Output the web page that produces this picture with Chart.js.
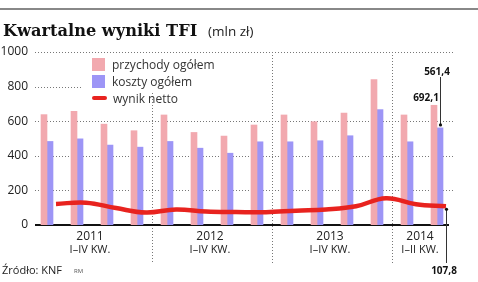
<!DOCTYPE html>
<html>
<head>
<meta charset="utf-8">
<script src="https://cdn.jsdelivr.net/npm/chart.js@4.4.1/dist/chart.umd.min.js"></script>
<style>
  body { margin: 0; background: #fff; }
  #wrap { position: relative; width: 478px; height: 282px; overflow: hidden; font-family: "Open Sans", sans-serif; color: #222; }
  #wrap canvas { position: absolute; left: 0; top: 0; }
  .rule { position: absolute; left: 0; top: 8px; width: 478px; height: 2px; background: #888; }
  .title { position: absolute; left: 3px; top: 22px; font: bold 16.2px/17px "DejaVu Serif", serif; white-space: nowrap; color: #111; }
  .unit { position: absolute; left: 208px; top: 22px; font-size: 13.5px; color: #222; }
  .legend { position: absolute; left: 92px; top: 56px; font-size: 12px; color: #333; }
  .legend div { height: 17px; line-height: 17px; white-space: nowrap; }
  .sw { display: inline-block; width: 13px; height: 13px; vertical-align: -2px; margin-right: 7px; }
  .ln { display: inline-block; width: 15px; height: 4px; border-radius: 2px; vertical-align: 3px; margin-right: 6px; background: #e8231f; }
  .src { position: absolute; left: 2px; top: 262px; font-size: 11px; color: #222; }
  .rm { position: absolute; left: 74px; top: 267px; font-size: 6px; color: #555; }
</style>
</head>
<body>
<div id="wrap">
  <canvas id="wyniki" width="478" height="282"></canvas>
  <div class="rule"></div>
  <div class="title">Kwartalne wyniki TFI</div>
  <div class="unit">(mln zł)</div>
  <div class="legend">
    <div><span class="sw" style="background:#f2a9af"></span>przychody ogółem</div>
    <div><span class="sw" style="background:#9d95f6"></span>koszty ogółem</div>
    <div><span class="ln"></span>wynik netto</div>
  </div>
  <div class="src">Źródło: KNF</div>
  <div class="rm">RM</div>
</div>
<script>
// dane kwartalne (mln zł)
const kwartaly = ['I 2011', 'II 2011', 'III 2011', 'IV 2011', 'I 2012', 'II 2012', 'III 2012', 'IV 2012',
  'I 2013', 'II 2013', 'III 2013', 'IV 2013', 'I 2014', 'II 2014'];
const przychody = [638, 657, 583, 545, 636, 535, 514, 578, 636, 597, 647, 840, 636, 692.1];
const koszty = [483, 498, 462, 450, 483, 444, 415, 481, 481, 487, 516, 667, 481, 561.4];
const wynik = [122, 129, 98, 72, 90, 78, 75, 74, 83, 90, 108, 155, 120, 107.8];

// opisy osi
const lata = ['2011', '2012', '2013', '2014'];
const okresy = ['I–IV KW.', 'I–IV KW.', 'I–IV KW.', 'I–II KW.'];
const kwNaRok = [4, 4, 4, 2];
const yTicks = [0, 200, 400, 600, 800, 1000];

// indeks kwartalu, przy ktorym stoi opis roku, i ostatni kwartal kazdego roku
const opisRoku = {};
const ostatniKw = [];
let start = 0;
kwNaRok.forEach((n, i) => {
  opisRoku[start + n / 2 - 1] = i;
  start += n;
  if (i < kwNaRok.length - 1) ostatniKw.push(start - 1);
});

const fmt = v => v.toFixed(1).replace('.', ',');
const PRZESUNIECIE = 9; // linia wyniku lekko w prawo od srodka kwartalu

const dekoracje = {
  id: 'dekoracje',
  beforeDatasetsDraw(chart) {
    const { ctx, chartArea: a, scales: { x, y } } = chart;
    const line = (x1, y1, x2, y2) => { ctx.beginPath(); ctx.moveTo(x1, y1); ctx.lineTo(x2, y2); ctx.stroke(); };
    ctx.save();
    ctx.strokeStyle = '#777';
    ctx.lineWidth = 1;
    ctx.setLineDash([1, 2]);
    yTicks.forEach(v => {
      if (v === 0) return;
      const py = Math.round(y.getPixelForValue(v)) + 0.5;
      line(35, py, v === 800 ? 83 : a.right + 2, py);
    });
    ostatniKw.forEach((k, i) => {
      const px = Math.round((x.getPixelForValue(k) + x.getPixelForValue(k + 1)) / 2) + 0.5;
      line(px, i === 0 ? 93 : a.top, px, 263);
    });
    ctx.setLineDash([]);
    ctx.strokeStyle = '#111';
    ctx.lineWidth = 2;
    const p0 = Math.round(y.getPixelForValue(0));
    line(35, p0, 449, p0);
    ctx.restore();
  },
  beforeDatasetDraw(chart, args) {
    if (args.index === 2) { chart.ctx.save(); chart.ctx.translate(PRZESUNIECIE, 0); }
  },
  afterDatasetDraw(chart, args) {
    if (args.index === 2) chart.ctx.restore();
  },
  afterDatasetsDraw(chart) {
    const { ctx } = chart;
    const last = kwartaly.length - 1;
    const mp = chart.getDatasetMeta(0).data[last];
    const mk = chart.getDatasetMeta(1).data[last];
    const ml = chart.getDatasetMeta(2).data[last];
    ctx.save();
    ctx.fillStyle = '#111';
    ctx.strokeStyle = '#333';
    ctx.lineWidth = 1;
    ctx.font = 'bold 10px "Open Sans"';
    ctx.textAlign = 'center';
    ctx.textBaseline = 'middle';
    // koszty
    ctx.fillText(fmt(koszty[last]), mk.x - 3, 72);
    const kx = Math.round(mk.x) + 0.5;
    ctx.beginPath(); ctx.moveTo(kx, 77); ctx.lineTo(kx, mk.y - 3); ctx.stroke();
    ctx.beginPath(); ctx.arc(kx, mk.y - 3, 1.6, 0, Math.PI * 2); ctx.fill();
    // przychody
    ctx.fillText(fmt(przychody[last]), mp.x - 8, mp.y - 7);
    // wynik netto
    const lx = Math.round(ml.x + PRZESUNIECIE) + 0.5;
    ctx.beginPath(); ctx.moveTo(lx, ml.y + 3); ctx.lineTo(lx, 263); ctx.stroke();
    ctx.beginPath(); ctx.arc(lx, ml.y + 3, 1.6, 0, Math.PI * 2); ctx.fill();
    ctx.fillText(fmt(wynik[last]), 444, 271);
    ctx.restore();
  }
};

const osRoku = (teksty, rozmiar, wys, pad) => ({
  type: 'category', position: 'bottom', offset: true,
  afterFit: s => { s.height = wys; },
  grid: { display: false, drawTicks: false }, border: { display: false },
  ticks: {
    autoSkip: false, maxRotation: 0, padding: pad, labelOffset: 13, color: '#222',
    font: { family: 'Open Sans', size: rozmiar },
    callback: (v, i) => (i in opisRoku ? teksty[opisRoku[i]] : '')
  }
});

const config = {
  type: 'bar',
  data: {
    labels: kwartaly,
    datasets: [{
      label: 'przychody ogółem',
      data: przychody,
      backgroundColor: '#f2a9af',
      barThickness: 6,
      xAxisID: 'x',
      order: 1
    }, {
      label: 'koszty ogółem',
      data: koszty,
      backgroundColor: '#9d95f6',
      barThickness: 6,
      xAxisID: 'x',
      order: 1
    }, {
      type: 'line',
      label: 'wynik netto',
      data: wynik,
      xAxisID: 'x',
      borderColor: '#e8231f',
      borderWidth: 4.5,
      pointRadius: 0,
      tension: 0.4,
      order: 0
    }]
  },
  options: {
    responsive: false,
    animation: false,
    layout: { padding: { top: 52, right: 26, left: 0, bottom: 0 } },
    plugins: { legend: { display: false }, tooltip: { enabled: false } },
    scales: {
      x: { display: false, offset: true },
      xg: Object.assign(osRoku(lata, 12, 18, 4), { weight: 0 }),
      xg2: Object.assign(osRoku(okresy, 11, 39, 0), { weight: 1 }),
      y: {
        min: 0, max: 1000,
        afterBuildTicks: s => { s.ticks = yTicks.map(v => ({ value: v })); },
        afterFit: s => { s.width = 32; },
        grid: { display: false, drawTicks: false }, border: { display: false },
        ticks: { padding: 4, color: '#222', font: { family: 'Open Sans', size: 12 }, callback: v => String(v) }
      }
    }
  },
  plugins: [dekoracje]
};

new Chart(document.getElementById('wyniki').getContext('2d'), config);
</script>
</body>
</html>
